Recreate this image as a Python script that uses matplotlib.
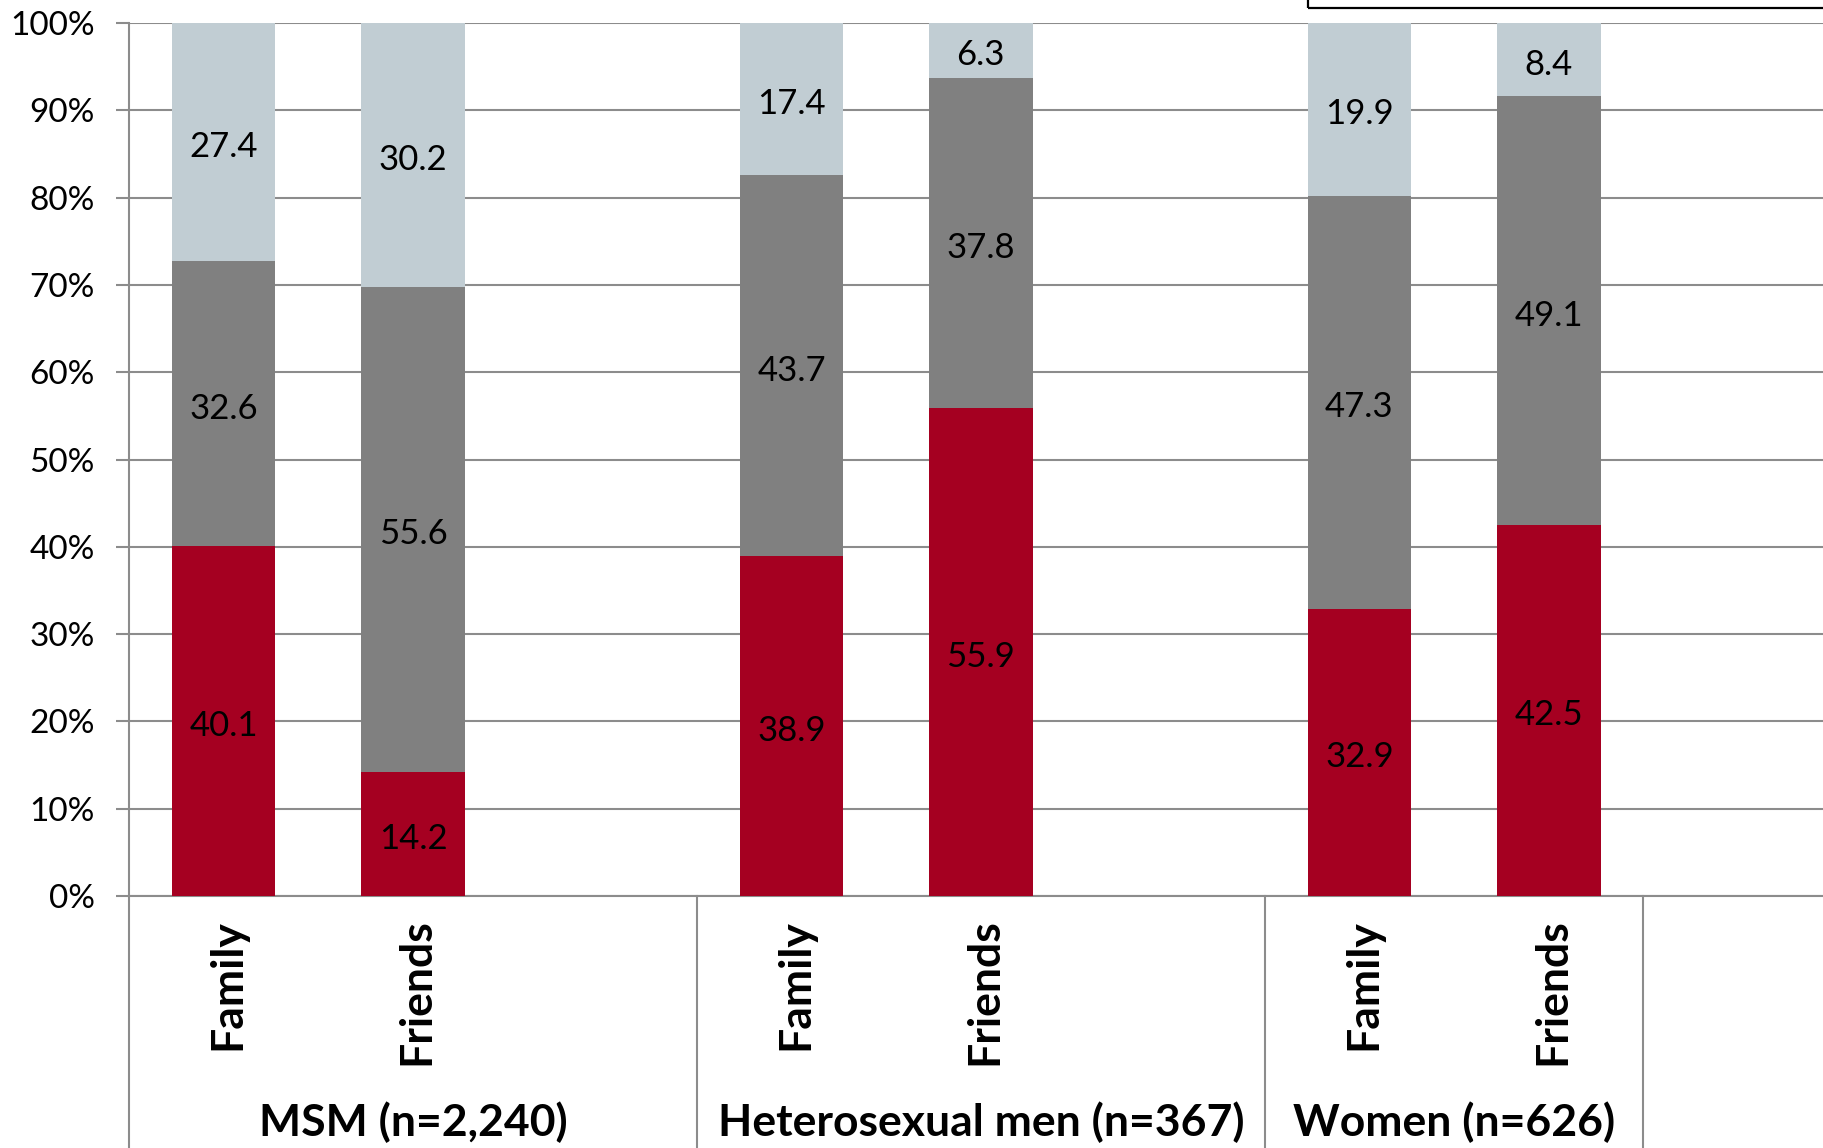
import matplotlib
matplotlib.use("Agg")
import matplotlib.pyplot as plt
from matplotlib.patches import Rectangle
from matplotlib.transforms import blended_transform_factory, offset_copy

# Stacked shares (%) per bar, bottom -> top
bar_labels = ["Family", "Friends", "Family", "Friends", "Family", "Friends"]
bar_slots = [0, 1, 3, 4, 6, 7]
group_labels = ["MSM (n=2,240)", "Heterosexual men (n=367)", "Women (n=626)"]
group_centers = [1, 4, 6.5]
group_edges = [-0.5, 2.5, 5.5, 7.5]

seg_bottom = [40.1, 14.2, 38.9, 55.9, 32.9, 42.5]
seg_middle = [32.6, 55.6, 43.7, 37.8, 47.3, 49.1]
seg_top = [27.4, 30.2, 17.4, 6.3, 19.9, 8.4]

colors = ["#A50021", "#808080", "#C1CDD3"]
grid_color = "#8C8C8C"

plt.rcParams["font.family"] = ["Lato", "DejaVu Sans"]

W, H = 1824, 1148
fig = plt.figure(figsize=(W / 100, H / 100), dpi=100)
left_px, zero_px, top_px = 129, 896, 23
ax = fig.add_axes([left_px / W, 1 - zero_px / H, (W - left_px) / W, (zero_px - top_px) / H])

slot_px = 189.3
ax.set_xlim(-0.5, -0.5 + (W - left_px) / slot_px)
ax.set_ylim(0, 100)

label_trans = offset_copy(ax.transData, fig=fig, x=0, y=-5, units="dots")

bw = 0.547
bottoms = [0] * len(seg_bottom)
for vals, col in zip([seg_bottom, seg_middle, seg_top], colors):
    ax.bar(bar_slots, vals, width=bw, bottom=bottoms, color=col, zorder=3)
    for x, b, v in zip(bar_slots, bottoms, vals):
        yc = (b + min(b + v, 100)) / 2
        ax.text(x, yc, f"{v:.1f}", ha="center", va="center", fontsize=25,
                color="black", zorder=4, transform=label_trans)
    bottoms = [b + v for b, v in zip(bottoms, vals)]

# Gridlines and axes styling
ax.set_yticks(range(0, 101, 10))
ax.set_yticklabels([f"{t}%" for t in range(0, 101, 10)], fontsize=24)
ax.yaxis.grid(True, color=grid_color, linewidth=1.5, zorder=0)
ax.set_axisbelow(True)
ax.tick_params(axis="y", length=9.5, width=1.5, color=grid_color, pad=15)
ax.set_xticks([])
for s in ["top", "right", "left"]:
    ax.spines[s].set_visible(False)
ax.spines["bottom"].set_color(grid_color)
ax.spines["bottom"].set_linewidth(1.5)

# Group separator lines running through the category area
trans = blended_transform_factory(ax.transData, ax.transAxes)
for e in group_edges:
    top = 1.0 if e == group_edges[0] else 0.0
    ax.plot([e, e], [top, -0.32], transform=trans, color=grid_color,
            linewidth=1.5, clip_on=False, zorder=1)

# Category labels
for x, lab in zip(bar_slots, bar_labels):
    ax.text(x + 0.02, -0.026, lab, transform=trans, rotation=90, ha="center",
            va="top", fontsize=32, fontweight="bold")
for x, lab in zip(group_centers, group_labels):
    ax.text(x, -0.259, lab, transform=trans, ha="center", va="center",
            fontsize=32, fontweight="bold")

# Legend frame at the top right
fig.patches.append(Rectangle((1308 / W, 1 - 8 / H), 0.5, 0.2, transform=fig.transFigure,
                             fill=False, edgecolor="black", linewidth=1.6))

fig.savefig("out.png", dpi=100)
